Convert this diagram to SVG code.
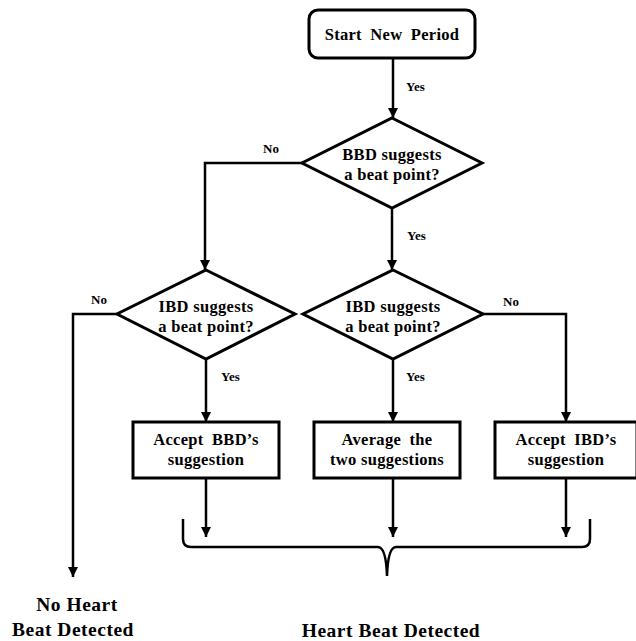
<svg xmlns="http://www.w3.org/2000/svg" width="636" height="641" viewBox="0 0 636 641">
<style>
.shape{fill:#fff;stroke:#000;stroke-width:3}
.ln{fill:none;stroke:#000;stroke-width:2.5}
text{font-family:"Liberation Serif","Times New Roman",serif;font-weight:bold;fill:#000}
.t{font-size:16.5px;letter-spacing:0.3px;text-anchor:middle}
.w{word-spacing:4px}
.lab{font-size:13px}
.big{font-size:19.5px;letter-spacing:0.5px;text-anchor:middle}
</style>
<defs>
<marker id="ah" viewBox="0 0 10 10" refX="10" refY="5" markerWidth="4" markerHeight="4" markerUnits="strokeWidth" orient="auto">
<path d="M0,0 L10,5 L0,10 z" fill="#000"/>
</marker>
</defs>
<rect width="636" height="641" fill="#fff"/>
<g id="connectors">
<path class="ln" d="M393,58 V118" marker-end="url(#ah)"/>
<path class="ln" d="M302,163 H205 V270" marker-end="url(#ah)"/>
<path class="ln" d="M392,208 V270" marker-end="url(#ah)"/>
<path class="ln" d="M117,314 H73 V577" marker-end="url(#ah)"/>
<path class="ln" d="M206,359 V422" marker-end="url(#ah)"/>
<path class="ln" d="M393,359 V422" marker-end="url(#ah)"/>
<path class="ln" d="M483,314 H566 V422" marker-end="url(#ah)"/>
<path class="ln" d="M206,478 V537" marker-end="url(#ah)"/>
<path class="ln" d="M393,478 V537" marker-end="url(#ah)"/>
<path class="ln" d="M566,478 V537" marker-end="url(#ah)"/>
<path class="ln" d="M183,519 V539 Q183,547 191,547 H378 Q386,547 387,576 Q388,547 396,547 H582 Q590,547 590,539 V519" stroke-width="3"/>
<text class="lab" x="406" y="91">Yes</text>
<text class="lab" x="407" y="240">Yes</text>
<text class="lab" x="221" y="381">Yes</text>
<text class="lab" x="406" y="381">Yes</text>
<text class="lab" x="263" y="153">No</text>
<text class="lab" x="91" y="304">No</text>
<text class="lab" x="503" y="306">No</text>
</g>
<g id="start">
<rect class="shape" x="309" y="10" width="166" height="48" rx="9"/>
<text class="t w" x="392" y="40">Start New Period</text>
</g>
<g id="bbd">
<polygon class="shape" points="392,118 482,163 392,208 302,163"/>
<text class="t" x="392" y="160">BBD suggests</text>
<text class="t" x="392" y="180">a beat point?</text>
</g>
<g id="ibd-left">
<polygon class="shape" points="206,270 295,314 206,359 117,314"/>
<text class="t" x="206" y="312">IBD suggests</text>
<text class="t" x="206" y="332">a beat point?</text>
</g>
<g id="ibd-mid">
<polygon class="shape" points="393,270 483,314 393,359 303,314"/>
<text class="t" x="393" y="312">IBD suggests</text>
<text class="t" x="393" y="332">a beat point?</text>
</g>
<g id="accept-bbd">
<rect class="shape" x="133" y="422" width="146" height="56"/>
<text class="t w" x="206" y="445">Accept BBD’s</text>
<text class="t" x="206" y="465">suggestion</text>
</g>
<g id="average">
<rect class="shape" x="314" y="422" width="146" height="56"/>
<text class="t w" x="387" y="445">Average the</text>
<text class="t" x="387" y="465">two suggestions</text>
</g>
<g id="accept-ibd">
<rect class="shape" x="495" y="422" width="142" height="56"/>
<text class="t w" x="566" y="445">Accept IBD’s</text>
<text class="t" x="566" y="465">suggestion</text>
</g>
<g id="no-beat">
<text class="big" x="77" y="611">No Heart</text>
<text class="big" x="73" y="636">Beat Detected</text>
</g>
<g id="beat">
<text class="big" x="391" y="637">Heart Beat Detected</text>
</g>
</svg>
